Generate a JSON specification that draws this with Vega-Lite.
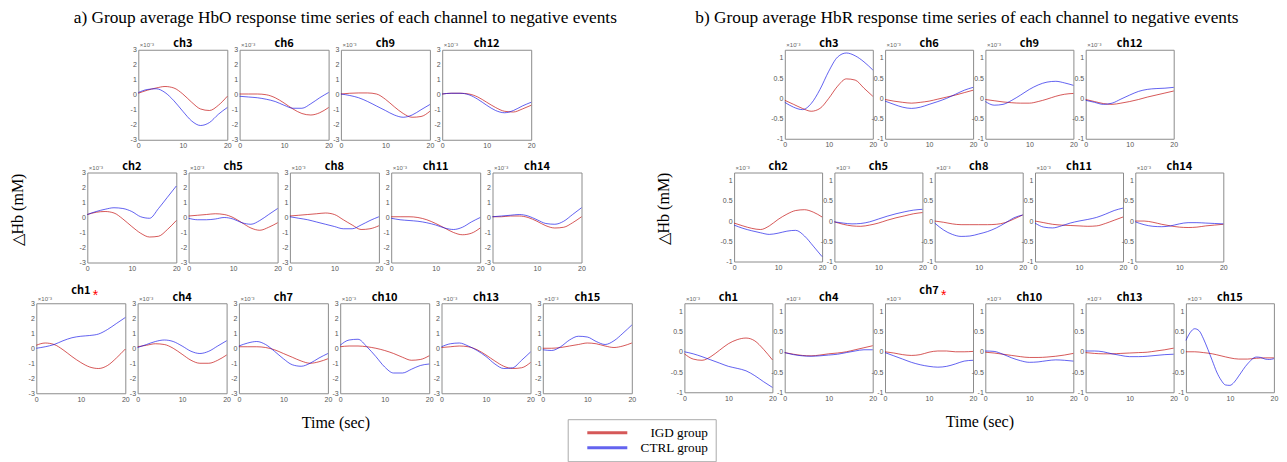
{
"$schema":"https://vega.github.io/schema/vega-lite/v6.json",
"padding":{"left":0,"top":9,"right":0,"bottom":0},
"autosize":{"type":"pad"},
"background":"white",
"spacing":10.75,
"datasets":{"d":[
{"k":"a3","g":"IGD group","t":0,"v":0.1},{"k":"a3","g":"IGD group","t":2,"v":0.3},{"k":"a3","g":"IGD group","t":4,"v":0.45},{"k":"a3","g":"IGD group","t":6,"v":0.55},{"k":"a3","g":"IGD group","t":8,"v":0.45},{"k":"a3","g":"IGD group","t":10,"v":0.05},{"k":"a3","g":"IGD group","t":12,"v":-0.5},{"k":"a3","g":"IGD group","t":14,"v":-0.95},{"k":"a3","g":"IGD group","t":16,"v":-1.05},{"k":"a3","g":"IGD group","t":18,"v":-0.7},{"k":"a3","g":"IGD group","t":20,"v":-0.1},
{"k":"a3","g":"CTRL group","t":0,"v":0.15},{"k":"a3","g":"CTRL group","t":2,"v":0.35},{"k":"a3","g":"CTRL group","t":4,"v":0.4},{"k":"a3","g":"CTRL group","t":6,"v":0.15},{"k":"a3","g":"CTRL group","t":8,"v":-0.4},{"k":"a3","g":"CTRL group","t":10,"v":-1.1},{"k":"a3","g":"CTRL group","t":12,"v":-1.75},{"k":"a3","g":"CTRL group","t":14,"v":-2.05},{"k":"a3","g":"CTRL group","t":16,"v":-1.85},{"k":"a3","g":"CTRL group","t":18,"v":-1.3},{"k":"a3","g":"CTRL group","t":20,"v":-0.85},
{"k":"a6","g":"IGD group","t":0,"v":0.05},{"k":"a6","g":"IGD group","t":2,"v":0.05},{"k":"a6","g":"IGD group","t":4,"v":0.05},{"k":"a6","g":"IGD group","t":6,"v":0},{"k":"a6","g":"IGD group","t":8,"v":-0.2},{"k":"a6","g":"IGD group","t":10,"v":-0.55},{"k":"a6","g":"IGD group","t":12,"v":-0.95},{"k":"a6","g":"IGD group","t":14,"v":-1.25},{"k":"a6","g":"IGD group","t":16,"v":-1.35},{"k":"a6","g":"IGD group","t":18,"v":-1.2},{"k":"a6","g":"IGD group","t":20,"v":-0.85},
{"k":"a6","g":"CTRL group","t":0,"v":-0.1},{"k":"a6","g":"CTRL group","t":2,"v":-0.15},{"k":"a6","g":"CTRL group","t":4,"v":-0.2},{"k":"a6","g":"CTRL group","t":6,"v":-0.3},{"k":"a6","g":"CTRL group","t":8,"v":-0.45},{"k":"a6","g":"CTRL group","t":10,"v":-0.7},{"k":"a6","g":"CTRL group","t":12,"v":-0.9},{"k":"a6","g":"CTRL group","t":14,"v":-0.9},{"k":"a6","g":"CTRL group","t":16,"v":-0.6},{"k":"a6","g":"CTRL group","t":18,"v":-0.2},{"k":"a6","g":"CTRL group","t":20,"v":0.15},
{"k":"a9","g":"IGD group","t":0,"v":0.05},{"k":"a9","g":"IGD group","t":2,"v":0.1},{"k":"a9","g":"IGD group","t":4,"v":0.12},{"k":"a9","g":"IGD group","t":6,"v":0.12},{"k":"a9","g":"IGD group","t":8,"v":0.05},{"k":"a9","g":"IGD group","t":10,"v":-0.3},{"k":"a9","g":"IGD group","t":12,"v":-0.8},{"k":"a9","g":"IGD group","t":14,"v":-1.25},{"k":"a9","g":"IGD group","t":16,"v":-1.5},{"k":"a9","g":"IGD group","t":18,"v":-1.45},{"k":"a9","g":"IGD group","t":20,"v":-1.1},
{"k":"a9","g":"CTRL group","t":0,"v":0.05},{"k":"a9","g":"CTRL group","t":2,"v":-0.05},{"k":"a9","g":"CTRL group","t":4,"v":-0.2},{"k":"a9","g":"CTRL group","t":6,"v":-0.45},{"k":"a9","g":"CTRL group","t":8,"v":-0.75},{"k":"a9","g":"CTRL group","t":10,"v":-1.05},{"k":"a9","g":"CTRL group","t":12,"v":-1.35},{"k":"a9","g":"CTRL group","t":14,"v":-1.5},{"k":"a9","g":"CTRL group","t":16,"v":-1.35},{"k":"a9","g":"CTRL group","t":18,"v":-1},{"k":"a9","g":"CTRL group","t":20,"v":-0.65},
{"k":"a12","g":"IGD group","t":0,"v":0.05},{"k":"a12","g":"IGD group","t":2,"v":0.1},{"k":"a12","g":"IGD group","t":4,"v":0.1},{"k":"a12","g":"IGD group","t":6,"v":0.05},{"k":"a12","g":"IGD group","t":8,"v":-0.15},{"k":"a12","g":"IGD group","t":10,"v":-0.5},{"k":"a12","g":"IGD group","t":12,"v":-0.85},{"k":"a12","g":"IGD group","t":14,"v":-1.1},{"k":"a12","g":"IGD group","t":16,"v":-1.15},{"k":"a12","g":"IGD group","t":18,"v":-0.95},{"k":"a12","g":"IGD group","t":20,"v":-0.7},
{"k":"a12","g":"CTRL group","t":0,"v":0.05},{"k":"a12","g":"CTRL group","t":2,"v":0.1},{"k":"a12","g":"CTRL group","t":4,"v":0.1},{"k":"a12","g":"CTRL group","t":6,"v":0},{"k":"a12","g":"CTRL group","t":8,"v":-0.3},{"k":"a12","g":"CTRL group","t":10,"v":-0.7},{"k":"a12","g":"CTRL group","t":12,"v":-1.05},{"k":"a12","g":"CTRL group","t":14,"v":-1.2},{"k":"a12","g":"CTRL group","t":16,"v":-1.05},{"k":"a12","g":"CTRL group","t":18,"v":-0.75},{"k":"a12","g":"CTRL group","t":20,"v":-0.5},
{"k":"a2","g":"IGD group","t":0,"v":0.2},{"k":"a2","g":"IGD group","t":2,"v":0.35},{"k":"a2","g":"IGD group","t":4,"v":0.4},{"k":"a2","g":"IGD group","t":6,"v":0.3},{"k":"a2","g":"IGD group","t":8,"v":-0.1},{"k":"a2","g":"IGD group","t":10,"v":-0.6},{"k":"a2","g":"IGD group","t":12,"v":-1.05},{"k":"a2","g":"IGD group","t":14,"v":-1.3},{"k":"a2","g":"IGD group","t":16,"v":-1.25},{"k":"a2","g":"IGD group","t":18,"v":-0.8},{"k":"a2","g":"IGD group","t":20,"v":-0.2},
{"k":"a2","g":"CTRL group","t":0,"v":0.2},{"k":"a2","g":"CTRL group","t":2,"v":0.4},{"k":"a2","g":"CTRL group","t":4,"v":0.55},{"k":"a2","g":"CTRL group","t":6,"v":0.65},{"k":"a2","g":"CTRL group","t":8,"v":0.6},{"k":"a2","g":"CTRL group","t":10,"v":0.4},{"k":"a2","g":"CTRL group","t":12,"v":0.05},{"k":"a2","g":"CTRL group","t":14,"v":-0.05},{"k":"a2","g":"CTRL group","t":16,"v":0.6},{"k":"a2","g":"CTRL group","t":18,"v":1.35},{"k":"a2","g":"CTRL group","t":20,"v":2.1},
{"k":"a5","g":"IGD group","t":0,"v":0.1},{"k":"a5","g":"IGD group","t":2,"v":0.15},{"k":"a5","g":"IGD group","t":4,"v":0.2},{"k":"a5","g":"IGD group","t":6,"v":0.25},{"k":"a5","g":"IGD group","t":8,"v":0.2},{"k":"a5","g":"IGD group","t":10,"v":0},{"k":"a5","g":"IGD group","t":12,"v":-0.35},{"k":"a5","g":"IGD group","t":14,"v":-0.7},{"k":"a5","g":"IGD group","t":16,"v":-0.85},{"k":"a5","g":"IGD group","t":18,"v":-0.65},{"k":"a5","g":"IGD group","t":20,"v":-0.35},
{"k":"a5","g":"CTRL group","t":0,"v":-0.05},{"k":"a5","g":"CTRL group","t":2,"v":-0.15},{"k":"a5","g":"CTRL group","t":4,"v":-0.15},{"k":"a5","g":"CTRL group","t":6,"v":-0.1},{"k":"a5","g":"CTRL group","t":8,"v":0},{"k":"a5","g":"CTRL group","t":10,"v":-0.1},{"k":"a5","g":"CTRL group","t":12,"v":-0.35},{"k":"a5","g":"CTRL group","t":14,"v":-0.45},{"k":"a5","g":"CTRL group","t":16,"v":-0.2},{"k":"a5","g":"CTRL group","t":18,"v":0.2},{"k":"a5","g":"CTRL group","t":20,"v":0.6},
{"k":"a8","g":"IGD group","t":0,"v":0.1},{"k":"a8","g":"IGD group","t":2,"v":0.15},{"k":"a8","g":"IGD group","t":4,"v":0.2},{"k":"a8","g":"IGD group","t":6,"v":0.25},{"k":"a8","g":"IGD group","t":8,"v":0.3},{"k":"a8","g":"IGD group","t":10,"v":0.2},{"k":"a8","g":"IGD group","t":12,"v":-0.15},{"k":"a8","g":"IGD group","t":14,"v":-0.5},{"k":"a8","g":"IGD group","t":16,"v":-0.8},{"k":"a8","g":"IGD group","t":18,"v":-0.75},{"k":"a8","g":"IGD group","t":20,"v":-0.55},
{"k":"a8","g":"CTRL group","t":0,"v":0.05},{"k":"a8","g":"CTRL group","t":2,"v":-0.05},{"k":"a8","g":"CTRL group","t":4,"v":-0.15},{"k":"a8","g":"CTRL group","t":6,"v":-0.3},{"k":"a8","g":"CTRL group","t":8,"v":-0.45},{"k":"a8","g":"CTRL group","t":10,"v":-0.6},{"k":"a8","g":"CTRL group","t":12,"v":-0.75},{"k":"a8","g":"CTRL group","t":14,"v":-0.75},{"k":"a8","g":"CTRL group","t":16,"v":-0.5},{"k":"a8","g":"CTRL group","t":18,"v":-0.2},{"k":"a8","g":"CTRL group","t":20,"v":0.05},
{"k":"a11","g":"IGD group","t":0,"v":0.05},{"k":"a11","g":"IGD group","t":2,"v":0.05},{"k":"a11","g":"IGD group","t":4,"v":0.05},{"k":"a11","g":"IGD group","t":6,"v":0},{"k":"a11","g":"IGD group","t":8,"v":-0.15},{"k":"a11","g":"IGD group","t":10,"v":-0.4},{"k":"a11","g":"IGD group","t":12,"v":-0.7},{"k":"a11","g":"IGD group","t":14,"v":-1},{"k":"a11","g":"IGD group","t":16,"v":-1.15},{"k":"a11","g":"IGD group","t":18,"v":-1.05},{"k":"a11","g":"IGD group","t":20,"v":-0.7},
{"k":"a11","g":"CTRL group","t":0,"v":-0.05},{"k":"a11","g":"CTRL group","t":2,"v":-0.15},{"k":"a11","g":"CTRL group","t":4,"v":-0.2},{"k":"a11","g":"CTRL group","t":6,"v":-0.25},{"k":"a11","g":"CTRL group","t":8,"v":-0.35},{"k":"a11","g":"CTRL group","t":10,"v":-0.5},{"k":"a11","g":"CTRL group","t":12,"v":-0.7},{"k":"a11","g":"CTRL group","t":14,"v":-0.8},{"k":"a11","g":"CTRL group","t":16,"v":-0.65},{"k":"a11","g":"CTRL group","t":18,"v":-0.3},{"k":"a11","g":"CTRL group","t":20,"v":0},
{"k":"a14","g":"IGD group","t":0,"v":0.05},{"k":"a14","g":"IGD group","t":2,"v":0.05},{"k":"a14","g":"IGD group","t":4,"v":0.1},{"k":"a14","g":"IGD group","t":6,"v":0.1},{"k":"a14","g":"IGD group","t":8,"v":0},{"k":"a14","g":"IGD group","t":10,"v":-0.25},{"k":"a14","g":"IGD group","t":12,"v":-0.55},{"k":"a14","g":"IGD group","t":14,"v":-0.7},{"k":"a14","g":"IGD group","t":16,"v":-0.65},{"k":"a14","g":"IGD group","t":18,"v":-0.35},{"k":"a14","g":"IGD group","t":20,"v":0.05},
{"k":"a14","g":"CTRL group","t":0,"v":0.05},{"k":"a14","g":"CTRL group","t":2,"v":0.1},{"k":"a14","g":"CTRL group","t":4,"v":0.15},{"k":"a14","g":"CTRL group","t":6,"v":0.2},{"k":"a14","g":"CTRL group","t":8,"v":0.1},{"k":"a14","g":"CTRL group","t":10,"v":-0.15},{"k":"a14","g":"CTRL group","t":12,"v":-0.4},{"k":"a14","g":"CTRL group","t":14,"v":-0.45},{"k":"a14","g":"CTRL group","t":16,"v":-0.25},{"k":"a14","g":"CTRL group","t":18,"v":0.2},{"k":"a14","g":"CTRL group","t":20,"v":0.65},
{"k":"a1","g":"IGD group","t":0,"v":0.2},{"k":"a1","g":"IGD group","t":2,"v":0.35},{"k":"a1","g":"IGD group","t":4,"v":0.25},{"k":"a1","g":"IGD group","t":6,"v":-0.1},{"k":"a1","g":"IGD group","t":8,"v":-0.55},{"k":"a1","g":"IGD group","t":10,"v":-0.95},{"k":"a1","g":"IGD group","t":12,"v":-1.25},{"k":"a1","g":"IGD group","t":14,"v":-1.35},{"k":"a1","g":"IGD group","t":16,"v":-1.15},{"k":"a1","g":"IGD group","t":18,"v":-0.65},{"k":"a1","g":"IGD group","t":20,"v":-0.05},
{"k":"a1","g":"CTRL group","t":0,"v":0},{"k":"a1","g":"CTRL group","t":2,"v":0.1},{"k":"a1","g":"CTRL group","t":4,"v":0.25},{"k":"a1","g":"CTRL group","t":6,"v":0.5},{"k":"a1","g":"CTRL group","t":8,"v":0.7},{"k":"a1","g":"CTRL group","t":10,"v":0.8},{"k":"a1","g":"CTRL group","t":12,"v":0.85},{"k":"a1","g":"CTRL group","t":14,"v":0.95},{"k":"a1","g":"CTRL group","t":16,"v":1.25},{"k":"a1","g":"CTRL group","t":18,"v":1.65},{"k":"a1","g":"CTRL group","t":20,"v":2.05},
{"k":"a4","g":"IGD group","t":0,"v":0.1},{"k":"a4","g":"IGD group","t":2,"v":0.2},{"k":"a4","g":"IGD group","t":4,"v":0.3},{"k":"a4","g":"IGD group","t":6,"v":0.25},{"k":"a4","g":"IGD group","t":8,"v":0},{"k":"a4","g":"IGD group","t":10,"v":-0.4},{"k":"a4","g":"IGD group","t":12,"v":-0.8},{"k":"a4","g":"IGD group","t":14,"v":-1},{"k":"a4","g":"IGD group","t":16,"v":-1},{"k":"a4","g":"IGD group","t":18,"v":-0.8},{"k":"a4","g":"IGD group","t":20,"v":-0.45},
{"k":"a4","g":"CTRL group","t":0,"v":0.05},{"k":"a4","g":"CTRL group","t":2,"v":0.25},{"k":"a4","g":"CTRL group","t":4,"v":0.45},{"k":"a4","g":"CTRL group","t":6,"v":0.55},{"k":"a4","g":"CTRL group","t":8,"v":0.45},{"k":"a4","g":"CTRL group","t":10,"v":0.15},{"k":"a4","g":"CTRL group","t":12,"v":-0.2},{"k":"a4","g":"CTRL group","t":14,"v":-0.35},{"k":"a4","g":"CTRL group","t":16,"v":-0.2},{"k":"a4","g":"CTRL group","t":18,"v":0.15},{"k":"a4","g":"CTRL group","t":20,"v":0.5},
{"k":"a7","g":"IGD group","t":0,"v":0.1},{"k":"a7","g":"IGD group","t":2,"v":0.1},{"k":"a7","g":"IGD group","t":4,"v":0.1},{"k":"a7","g":"IGD group","t":6,"v":0.05},{"k":"a7","g":"IGD group","t":8,"v":-0.1},{"k":"a7","g":"IGD group","t":10,"v":-0.35},{"k":"a7","g":"IGD group","t":12,"v":-0.6},{"k":"a7","g":"IGD group","t":14,"v":-0.85},{"k":"a7","g":"IGD group","t":16,"v":-1},{"k":"a7","g":"IGD group","t":18,"v":-0.9},{"k":"a7","g":"IGD group","t":20,"v":-0.7},
{"k":"a7","g":"CTRL group","t":0,"v":0.15},{"k":"a7","g":"CTRL group","t":2,"v":0.35},{"k":"a7","g":"CTRL group","t":4,"v":0.45},{"k":"a7","g":"CTRL group","t":6,"v":0.25},{"k":"a7","g":"CTRL group","t":8,"v":-0.2},{"k":"a7","g":"CTRL group","t":10,"v":-0.7},{"k":"a7","g":"CTRL group","t":12,"v":-1.1},{"k":"a7","g":"CTRL group","t":14,"v":-1.2},{"k":"a7","g":"CTRL group","t":16,"v":-1},{"k":"a7","g":"CTRL group","t":18,"v":-0.65},{"k":"a7","g":"CTRL group","t":20,"v":-0.35},
{"k":"a10","g":"IGD group","t":0,"v":0.1},{"k":"a10","g":"IGD group","t":2,"v":0.15},{"k":"a10","g":"IGD group","t":4,"v":0.15},{"k":"a10","g":"IGD group","t":6,"v":0.1},{"k":"a10","g":"IGD group","t":8,"v":0},{"k":"a10","g":"IGD group","t":10,"v":-0.15},{"k":"a10","g":"IGD group","t":12,"v":-0.35},{"k":"a10","g":"IGD group","t":14,"v":-0.6},{"k":"a10","g":"IGD group","t":16,"v":-0.8},{"k":"a10","g":"IGD group","t":18,"v":-0.75},{"k":"a10","g":"IGD group","t":20,"v":-0.5},
{"k":"a10","g":"CTRL group","t":0,"v":0.2},{"k":"a10","g":"CTRL group","t":2,"v":0.55},{"k":"a10","g":"CTRL group","t":4,"v":0.6},{"k":"a10","g":"CTRL group","t":6,"v":0.1},{"k":"a10","g":"CTRL group","t":8,"v":-0.55},{"k":"a10","g":"CTRL group","t":10,"v":-1.25},{"k":"a10","g":"CTRL group","t":12,"v":-1.65},{"k":"a10","g":"CTRL group","t":14,"v":-1.65},{"k":"a10","g":"CTRL group","t":16,"v":-1.4},{"k":"a10","g":"CTRL group","t":18,"v":-1.15},{"k":"a10","g":"CTRL group","t":20,"v":-1.05},
{"k":"a13","g":"IGD group","t":0,"v":0.05},{"k":"a13","g":"IGD group","t":2,"v":0.1},{"k":"a13","g":"IGD group","t":4,"v":0.15},{"k":"a13","g":"IGD group","t":6,"v":0.1},{"k":"a13","g":"IGD group","t":8,"v":-0.1},{"k":"a13","g":"IGD group","t":10,"v":-0.45},{"k":"a13","g":"IGD group","t":12,"v":-0.85},{"k":"a13","g":"IGD group","t":14,"v":-1.2},{"k":"a13","g":"IGD group","t":16,"v":-1.35},{"k":"a13","g":"IGD group","t":18,"v":-1.3},{"k":"a13","g":"IGD group","t":20,"v":-0.95},
{"k":"a13","g":"CTRL group","t":0,"v":0.1},{"k":"a13","g":"CTRL group","t":2,"v":0.3},{"k":"a13","g":"CTRL group","t":4,"v":0.35},{"k":"a13","g":"CTRL group","t":6,"v":0.15},{"k":"a13","g":"CTRL group","t":8,"v":-0.15},{"k":"a13","g":"CTRL group","t":10,"v":-0.55},{"k":"a13","g":"CTRL group","t":12,"v":-1.05},{"k":"a13","g":"CTRL group","t":14,"v":-1.35},{"k":"a13","g":"CTRL group","t":16,"v":-1.3},{"k":"a13","g":"CTRL group","t":18,"v":-0.8},{"k":"a13","g":"CTRL group","t":20,"v":-0.25},
{"k":"a15","g":"IGD group","t":0,"v":0},{"k":"a15","g":"IGD group","t":2,"v":0},{"k":"a15","g":"IGD group","t":4,"v":0.05},{"k":"a15","g":"IGD group","t":6,"v":0.15},{"k":"a15","g":"IGD group","t":8,"v":0.25},{"k":"a15","g":"IGD group","t":10,"v":0.35},{"k":"a15","g":"IGD group","t":12,"v":0.3},{"k":"a15","g":"IGD group","t":14,"v":0.15},{"k":"a15","g":"IGD group","t":16,"v":0.05},{"k":"a15","g":"IGD group","t":18,"v":0.15},{"k":"a15","g":"IGD group","t":20,"v":0.35},
{"k":"a15","g":"CTRL group","t":0,"v":-0.1},{"k":"a15","g":"CTRL group","t":2,"v":-0.15},{"k":"a15","g":"CTRL group","t":4,"v":0.1},{"k":"a15","g":"CTRL group","t":6,"v":0.55},{"k":"a15","g":"CTRL group","t":8,"v":0.8},{"k":"a15","g":"CTRL group","t":10,"v":0.75},{"k":"a15","g":"CTRL group","t":12,"v":0.45},{"k":"a15","g":"CTRL group","t":14,"v":0.25},{"k":"a15","g":"CTRL group","t":16,"v":0.5},{"k":"a15","g":"CTRL group","t":18,"v":1},{"k":"a15","g":"CTRL group","t":20,"v":1.55},
{"k":"b3","g":"IGD group","t":0,"v":-0.05},{"k":"b3","g":"IGD group","t":2,"v":-0.15},{"k":"b3","g":"IGD group","t":4,"v":-0.25},{"k":"b3","g":"IGD group","t":6,"v":-0.32},{"k":"b3","g":"IGD group","t":8,"v":-0.25},{"k":"b3","g":"IGD group","t":10,"v":0},{"k":"b3","g":"IGD group","t":12,"v":0.3},{"k":"b3","g":"IGD group","t":14,"v":0.48},{"k":"b3","g":"IGD group","t":16,"v":0.45},{"k":"b3","g":"IGD group","t":18,"v":0.25},{"k":"b3","g":"IGD group","t":20,"v":0.05},
{"k":"b3","g":"CTRL group","t":0,"v":-0.1},{"k":"b3","g":"CTRL group","t":2,"v":-0.22},{"k":"b3","g":"CTRL group","t":4,"v":-0.28},{"k":"b3","g":"CTRL group","t":6,"v":-0.13},{"k":"b3","g":"CTRL group","t":8,"v":0.22},{"k":"b3","g":"CTRL group","t":10,"v":0.67},{"k":"b3","g":"CTRL group","t":12,"v":1.02},{"k":"b3","g":"CTRL group","t":14,"v":1.12},{"k":"b3","g":"CTRL group","t":16,"v":1.05},{"k":"b3","g":"CTRL group","t":18,"v":0.9},{"k":"b3","g":"CTRL group","t":20,"v":0.7},
{"k":"b6","g":"IGD group","t":0,"v":-0.03},{"k":"b6","g":"IGD group","t":2,"v":-0.07},{"k":"b6","g":"IGD group","t":4,"v":-0.1},{"k":"b6","g":"IGD group","t":6,"v":-0.12},{"k":"b6","g":"IGD group","t":8,"v":-0.1},{"k":"b6","g":"IGD group","t":10,"v":-0.07},{"k":"b6","g":"IGD group","t":12,"v":-0.02},{"k":"b6","g":"IGD group","t":14,"v":0.03},{"k":"b6","g":"IGD group","t":16,"v":0.08},{"k":"b6","g":"IGD group","t":18,"v":0.14},{"k":"b6","g":"IGD group","t":20,"v":0.2},
{"k":"b6","g":"CTRL group","t":0,"v":-0.07},{"k":"b6","g":"CTRL group","t":2,"v":-0.15},{"k":"b6","g":"CTRL group","t":4,"v":-0.22},{"k":"b6","g":"CTRL group","t":6,"v":-0.25},{"k":"b6","g":"CTRL group","t":8,"v":-0.22},{"k":"b6","g":"CTRL group","t":10,"v":-0.15},{"k":"b6","g":"CTRL group","t":12,"v":-0.08},{"k":"b6","g":"CTRL group","t":14,"v":0},{"k":"b6","g":"CTRL group","t":16,"v":0.1},{"k":"b6","g":"CTRL group","t":18,"v":0.2},{"k":"b6","g":"CTRL group","t":20,"v":0.27},
{"k":"b9","g":"IGD group","t":0,"v":-0.03},{"k":"b9","g":"IGD group","t":2,"v":-0.06},{"k":"b9","g":"IGD group","t":4,"v":-0.09},{"k":"b9","g":"IGD group","t":6,"v":-0.11},{"k":"b9","g":"IGD group","t":8,"v":-0.12},{"k":"b9","g":"IGD group","t":10,"v":-0.12},{"k":"b9","g":"IGD group","t":12,"v":-0.08},{"k":"b9","g":"IGD group","t":14,"v":-0.02},{"k":"b9","g":"IGD group","t":16,"v":0.05},{"k":"b9","g":"IGD group","t":18,"v":0.1},{"k":"b9","g":"IGD group","t":20,"v":0.12},
{"k":"b9","g":"CTRL group","t":0,"v":-0.08},{"k":"b9","g":"CTRL group","t":2,"v":-0.17},{"k":"b9","g":"CTRL group","t":4,"v":-0.15},{"k":"b9","g":"CTRL group","t":6,"v":-0.05},{"k":"b9","g":"CTRL group","t":8,"v":0.08},{"k":"b9","g":"CTRL group","t":10,"v":0.22},{"k":"b9","g":"CTRL group","t":12,"v":0.33},{"k":"b9","g":"CTRL group","t":14,"v":0.4},{"k":"b9","g":"CTRL group","t":16,"v":0.42},{"k":"b9","g":"CTRL group","t":18,"v":0.38},{"k":"b9","g":"CTRL group","t":20,"v":0.32},
{"k":"b12","g":"IGD group","t":0,"v":-0.03},{"k":"b12","g":"IGD group","t":2,"v":-0.08},{"k":"b12","g":"IGD group","t":4,"v":-0.13},{"k":"b12","g":"IGD group","t":6,"v":-0.15},{"k":"b12","g":"IGD group","t":8,"v":-0.12},{"k":"b12","g":"IGD group","t":10,"v":-0.08},{"k":"b12","g":"IGD group","t":12,"v":-0.03},{"k":"b12","g":"IGD group","t":14,"v":0.03},{"k":"b12","g":"IGD group","t":16,"v":0.08},{"k":"b12","g":"IGD group","t":18,"v":0.13},{"k":"b12","g":"IGD group","t":20,"v":0.18},
{"k":"b12","g":"CTRL group","t":0,"v":-0.05},{"k":"b12","g":"CTRL group","t":2,"v":-0.1},{"k":"b12","g":"CTRL group","t":4,"v":-0.15},{"k":"b12","g":"CTRL group","t":6,"v":-0.12},{"k":"b12","g":"CTRL group","t":8,"v":-0.02},{"k":"b12","g":"CTRL group","t":10,"v":0.08},{"k":"b12","g":"CTRL group","t":12,"v":0.17},{"k":"b12","g":"CTRL group","t":14,"v":0.22},{"k":"b12","g":"CTRL group","t":16,"v":0.24},{"k":"b12","g":"CTRL group","t":18,"v":0.25},{"k":"b12","g":"CTRL group","t":20,"v":0.27},
{"k":"b2","g":"IGD group","t":0,"v":-0.05},{"k":"b2","g":"IGD group","t":2,"v":-0.12},{"k":"b2","g":"IGD group","t":4,"v":-0.18},{"k":"b2","g":"IGD group","t":6,"v":-0.21},{"k":"b2","g":"IGD group","t":8,"v":-0.12},{"k":"b2","g":"IGD group","t":10,"v":0.04},{"k":"b2","g":"IGD group","t":12,"v":0.17},{"k":"b2","g":"IGD group","t":14,"v":0.26},{"k":"b2","g":"IGD group","t":16,"v":0.28},{"k":"b2","g":"IGD group","t":18,"v":0.22},{"k":"b2","g":"IGD group","t":20,"v":0.1},
{"k":"b2","g":"CTRL group","t":0,"v":-0.1},{"k":"b2","g":"CTRL group","t":2,"v":-0.18},{"k":"b2","g":"CTRL group","t":4,"v":-0.24},{"k":"b2","g":"CTRL group","t":6,"v":-0.29},{"k":"b2","g":"CTRL group","t":8,"v":-0.33},{"k":"b2","g":"CTRL group","t":10,"v":-0.3},{"k":"b2","g":"CTRL group","t":12,"v":-0.25},{"k":"b2","g":"CTRL group","t":14,"v":-0.23},{"k":"b2","g":"CTRL group","t":16,"v":-0.37},{"k":"b2","g":"CTRL group","t":18,"v":-0.62},{"k":"b2","g":"CTRL group","t":20,"v":-0.88},
{"k":"b5","g":"IGD group","t":0,"v":-0.02},{"k":"b5","g":"IGD group","t":2,"v":-0.08},{"k":"b5","g":"IGD group","t":4,"v":-0.12},{"k":"b5","g":"IGD group","t":6,"v":-0.13},{"k":"b5","g":"IGD group","t":8,"v":-0.1},{"k":"b5","g":"IGD group","t":10,"v":-0.05},{"k":"b5","g":"IGD group","t":12,"v":0.02},{"k":"b5","g":"IGD group","t":14,"v":0.08},{"k":"b5","g":"IGD group","t":16,"v":0.13},{"k":"b5","g":"IGD group","t":18,"v":0.18},{"k":"b5","g":"IGD group","t":20,"v":0.21},
{"k":"b5","g":"CTRL group","t":0,"v":-0.02},{"k":"b5","g":"CTRL group","t":2,"v":-0.05},{"k":"b5","g":"CTRL group","t":4,"v":-0.07},{"k":"b5","g":"CTRL group","t":6,"v":-0.06},{"k":"b5","g":"CTRL group","t":8,"v":-0.02},{"k":"b5","g":"CTRL group","t":10,"v":0.05},{"k":"b5","g":"CTRL group","t":12,"v":0.12},{"k":"b5","g":"CTRL group","t":14,"v":0.18},{"k":"b5","g":"CTRL group","t":16,"v":0.23},{"k":"b5","g":"CTRL group","t":18,"v":0.27},{"k":"b5","g":"CTRL group","t":20,"v":0.29},
{"k":"b8","g":"IGD group","t":0,"v":0},{"k":"b8","g":"IGD group","t":2,"v":-0.03},{"k":"b8","g":"IGD group","t":4,"v":-0.07},{"k":"b8","g":"IGD group","t":6,"v":-0.09},{"k":"b8","g":"IGD group","t":8,"v":-0.09},{"k":"b8","g":"IGD group","t":10,"v":-0.09},{"k":"b8","g":"IGD group","t":12,"v":-0.09},{"k":"b8","g":"IGD group","t":14,"v":-0.08},{"k":"b8","g":"IGD group","t":16,"v":-0.04},{"k":"b8","g":"IGD group","t":18,"v":0.05},{"k":"b8","g":"IGD group","t":20,"v":0.15},
{"k":"b8","g":"CTRL group","t":0,"v":-0.05},{"k":"b8","g":"CTRL group","t":2,"v":-0.22},{"k":"b8","g":"CTRL group","t":4,"v":-0.33},{"k":"b8","g":"CTRL group","t":6,"v":-0.38},{"k":"b8","g":"CTRL group","t":8,"v":-0.37},{"k":"b8","g":"CTRL group","t":10,"v":-0.32},{"k":"b8","g":"CTRL group","t":12,"v":-0.26},{"k":"b8","g":"CTRL group","t":14,"v":-0.17},{"k":"b8","g":"CTRL group","t":16,"v":-0.05},{"k":"b8","g":"CTRL group","t":18,"v":0.08},{"k":"b8","g":"CTRL group","t":20,"v":0.15},
{"k":"b11","g":"IGD group","t":0,"v":0},{"k":"b11","g":"IGD group","t":2,"v":-0.04},{"k":"b11","g":"IGD group","t":4,"v":-0.08},{"k":"b11","g":"IGD group","t":6,"v":-0.1},{"k":"b11","g":"IGD group","t":8,"v":-0.11},{"k":"b11","g":"IGD group","t":10,"v":-0.12},{"k":"b11","g":"IGD group","t":12,"v":-0.13},{"k":"b11","g":"IGD group","t":14,"v":-0.12},{"k":"b11","g":"IGD group","t":16,"v":-0.06},{"k":"b11","g":"IGD group","t":18,"v":0.02},{"k":"b11","g":"IGD group","t":20,"v":0.1},
{"k":"b11","g":"CTRL group","t":0,"v":-0.05},{"k":"b11","g":"CTRL group","t":2,"v":-0.15},{"k":"b11","g":"CTRL group","t":4,"v":-0.17},{"k":"b11","g":"CTRL group","t":6,"v":-0.12},{"k":"b11","g":"CTRL group","t":8,"v":-0.05},{"k":"b11","g":"CTRL group","t":10,"v":0},{"k":"b11","g":"CTRL group","t":12,"v":0.04},{"k":"b11","g":"CTRL group","t":14,"v":0.09},{"k":"b11","g":"CTRL group","t":16,"v":0.17},{"k":"b11","g":"CTRL group","t":18,"v":0.26},{"k":"b11","g":"CTRL group","t":20,"v":0.32},
{"k":"b14","g":"IGD group","t":0,"v":0},{"k":"b14","g":"IGD group","t":2,"v":0},{"k":"b14","g":"IGD group","t":4,"v":-0.03},{"k":"b14","g":"IGD group","t":6,"v":-0.08},{"k":"b14","g":"IGD group","t":8,"v":-0.12},{"k":"b14","g":"IGD group","t":10,"v":-0.15},{"k":"b14","g":"IGD group","t":12,"v":-0.16},{"k":"b14","g":"IGD group","t":14,"v":-0.15},{"k":"b14","g":"IGD group","t":16,"v":-0.12},{"k":"b14","g":"IGD group","t":18,"v":-0.1},{"k":"b14","g":"IGD group","t":20,"v":-0.08},
{"k":"b14","g":"CTRL group","t":0,"v":-0.02},{"k":"b14","g":"CTRL group","t":2,"v":-0.09},{"k":"b14","g":"CTRL group","t":4,"v":-0.13},{"k":"b14","g":"CTRL group","t":6,"v":-0.14},{"k":"b14","g":"CTRL group","t":8,"v":-0.12},{"k":"b14","g":"CTRL group","t":10,"v":-0.07},{"k":"b14","g":"CTRL group","t":12,"v":-0.04},{"k":"b14","g":"CTRL group","t":14,"v":-0.04},{"k":"b14","g":"CTRL group","t":16,"v":-0.05},{"k":"b14","g":"CTRL group","t":18,"v":-0.06},{"k":"b14","g":"CTRL group","t":20,"v":-0.07},
{"k":"b1","g":"IGD group","t":0,"v":-0.05},{"k":"b1","g":"IGD group","t":2,"v":-0.18},{"k":"b1","g":"IGD group","t":4,"v":-0.21},{"k":"b1","g":"IGD group","t":6,"v":-0.12},{"k":"b1","g":"IGD group","t":8,"v":0.04},{"k":"b1","g":"IGD group","t":10,"v":0.2},{"k":"b1","g":"IGD group","t":12,"v":0.3},{"k":"b1","g":"IGD group","t":14,"v":0.34},{"k":"b1","g":"IGD group","t":16,"v":0.27},{"k":"b1","g":"IGD group","t":18,"v":0.06},{"k":"b1","g":"IGD group","t":20,"v":-0.2},
{"k":"b1","g":"CTRL group","t":0,"v":0},{"k":"b1","g":"CTRL group","t":2,"v":-0.05},{"k":"b1","g":"CTRL group","t":4,"v":-0.12},{"k":"b1","g":"CTRL group","t":6,"v":-0.2},{"k":"b1","g":"CTRL group","t":8,"v":-0.28},{"k":"b1","g":"CTRL group","t":10,"v":-0.36},{"k":"b1","g":"CTRL group","t":12,"v":-0.41},{"k":"b1","g":"CTRL group","t":14,"v":-0.47},{"k":"b1","g":"CTRL group","t":16,"v":-0.59},{"k":"b1","g":"CTRL group","t":18,"v":-0.74},{"k":"b1","g":"CTRL group","t":20,"v":-0.88},
{"k":"b4","g":"IGD group","t":0,"v":-0.02},{"k":"b4","g":"IGD group","t":2,"v":-0.06},{"k":"b4","g":"IGD group","t":4,"v":-0.09},{"k":"b4","g":"IGD group","t":6,"v":-0.1},{"k":"b4","g":"IGD group","t":8,"v":-0.08},{"k":"b4","g":"IGD group","t":10,"v":-0.05},{"k":"b4","g":"IGD group","t":12,"v":-0.03},{"k":"b4","g":"IGD group","t":14,"v":0},{"k":"b4","g":"IGD group","t":16,"v":0.05},{"k":"b4","g":"IGD group","t":18,"v":0.1},{"k":"b4","g":"IGD group","t":20,"v":0.15},
{"k":"b4","g":"CTRL group","t":0,"v":-0.02},{"k":"b4","g":"CTRL group","t":2,"v":-0.07},{"k":"b4","g":"CTRL group","t":4,"v":-0.1},{"k":"b4","g":"CTRL group","t":6,"v":-0.11},{"k":"b4","g":"CTRL group","t":8,"v":-0.1},{"k":"b4","g":"CTRL group","t":10,"v":-0.08},{"k":"b4","g":"CTRL group","t":12,"v":-0.06},{"k":"b4","g":"CTRL group","t":14,"v":-0.02},{"k":"b4","g":"CTRL group","t":16,"v":0.02},{"k":"b4","g":"CTRL group","t":18,"v":0.05},{"k":"b4","g":"CTRL group","t":20,"v":0.05},
{"k":"b7","g":"IGD group","t":0,"v":0},{"k":"b7","g":"IGD group","t":2,"v":-0.03},{"k":"b7","g":"IGD group","t":4,"v":-0.07},{"k":"b7","g":"IGD group","t":6,"v":-0.09},{"k":"b7","g":"IGD group","t":8,"v":-0.07},{"k":"b7","g":"IGD group","t":10,"v":-0.01},{"k":"b7","g":"IGD group","t":12,"v":0.02},{"k":"b7","g":"IGD group","t":14,"v":0.02},{"k":"b7","g":"IGD group","t":16,"v":0},{"k":"b7","g":"IGD group","t":18,"v":0},{"k":"b7","g":"IGD group","t":20,"v":0.01},
{"k":"b7","g":"CTRL group","t":0,"v":-0.02},{"k":"b7","g":"CTRL group","t":2,"v":-0.1},{"k":"b7","g":"CTRL group","t":4,"v":-0.18},{"k":"b7","g":"CTRL group","t":6,"v":-0.26},{"k":"b7","g":"CTRL group","t":8,"v":-0.32},{"k":"b7","g":"CTRL group","t":10,"v":-0.36},{"k":"b7","g":"CTRL group","t":12,"v":-0.38},{"k":"b7","g":"CTRL group","t":14,"v":-0.36},{"k":"b7","g":"CTRL group","t":16,"v":-0.3},{"k":"b7","g":"CTRL group","t":18,"v":-0.23},{"k":"b7","g":"CTRL group","t":20,"v":-0.21},
{"k":"b10","g":"IGD group","t":0,"v":-0.01},{"k":"b10","g":"IGD group","t":2,"v":-0.03},{"k":"b10","g":"IGD group","t":4,"v":-0.06},{"k":"b10","g":"IGD group","t":6,"v":-0.09},{"k":"b10","g":"IGD group","t":8,"v":-0.12},{"k":"b10","g":"IGD group","t":10,"v":-0.14},{"k":"b10","g":"IGD group","t":12,"v":-0.14},{"k":"b10","g":"IGD group","t":14,"v":-0.13},{"k":"b10","g":"IGD group","t":16,"v":-0.11},{"k":"b10","g":"IGD group","t":18,"v":-0.08},{"k":"b10","g":"IGD group","t":20,"v":-0.04},
{"k":"b10","g":"CTRL group","t":0,"v":0.02},{"k":"b10","g":"CTRL group","t":2,"v":0.01},{"k":"b10","g":"CTRL group","t":4,"v":-0.06},{"k":"b10","g":"CTRL group","t":6,"v":-0.15},{"k":"b10","g":"CTRL group","t":8,"v":-0.22},{"k":"b10","g":"CTRL group","t":10,"v":-0.26},{"k":"b10","g":"CTRL group","t":12,"v":-0.25},{"k":"b10","g":"CTRL group","t":14,"v":-0.22},{"k":"b10","g":"CTRL group","t":16,"v":-0.2},{"k":"b10","g":"CTRL group","t":18,"v":-0.21},{"k":"b10","g":"CTRL group","t":20,"v":-0.23},
{"k":"b13","g":"IGD group","t":0,"v":-0.02},{"k":"b13","g":"IGD group","t":2,"v":-0.04},{"k":"b13","g":"IGD group","t":4,"v":-0.05},{"k":"b13","g":"IGD group","t":6,"v":-0.05},{"k":"b13","g":"IGD group","t":8,"v":-0.04},{"k":"b13","g":"IGD group","t":10,"v":-0.03},{"k":"b13","g":"IGD group","t":12,"v":-0.02},{"k":"b13","g":"IGD group","t":14,"v":-0.01},{"k":"b13","g":"IGD group","t":16,"v":0.02},{"k":"b13","g":"IGD group","t":18,"v":0.05},{"k":"b13","g":"IGD group","t":20,"v":0.09},
{"k":"b13","g":"CTRL group","t":0,"v":0.02},{"k":"b13","g":"CTRL group","t":2,"v":0.02},{"k":"b13","g":"CTRL group","t":4,"v":0},{"k":"b13","g":"CTRL group","t":6,"v":-0.05},{"k":"b13","g":"CTRL group","t":8,"v":-0.09},{"k":"b13","g":"CTRL group","t":10,"v":-0.12},{"k":"b13","g":"CTRL group","t":12,"v":-0.12},{"k":"b13","g":"CTRL group","t":14,"v":-0.11},{"k":"b13","g":"CTRL group","t":16,"v":-0.09},{"k":"b13","g":"CTRL group","t":18,"v":-0.07},{"k":"b13","g":"CTRL group","t":20,"v":-0.06},
{"k":"b15","g":"IGD group","t":0,"v":0},{"k":"b15","g":"IGD group","t":2,"v":0},{"k":"b15","g":"IGD group","t":4,"v":-0.02},{"k":"b15","g":"IGD group","t":6,"v":-0.05},{"k":"b15","g":"IGD group","t":8,"v":-0.1},{"k":"b15","g":"IGD group","t":10,"v":-0.15},{"k":"b15","g":"IGD group","t":12,"v":-0.18},{"k":"b15","g":"IGD group","t":14,"v":-0.18},{"k":"b15","g":"IGD group","t":16,"v":-0.16},{"k":"b15","g":"IGD group","t":18,"v":-0.15},{"k":"b15","g":"IGD group","t":20,"v":-0.15},
{"k":"b15","g":"CTRL group","t":0,"v":0.28},{"k":"b15","g":"CTRL group","t":1,"v":0.48},{"k":"b15","g":"CTRL group","t":2,"v":0.57},{"k":"b15","g":"CTRL group","t":3,"v":0.52},{"k":"b15","g":"CTRL group","t":4,"v":0.32},{"k":"b15","g":"CTRL group","t":5,"v":0.06},{"k":"b15","g":"CTRL group","t":6,"v":-0.22},{"k":"b15","g":"CTRL group","t":7,"v":-0.5},{"k":"b15","g":"CTRL group","t":8,"v":-0.7},{"k":"b15","g":"CTRL group","t":9,"v":-0.82},{"k":"b15","g":"CTRL group","t":10,"v":-0.83},{"k":"b15","g":"CTRL group","t":11,"v":-0.75},{"k":"b15","g":"CTRL group","t":12,"v":-0.6},{"k":"b15","g":"CTRL group","t":14,"v":-0.3},{"k":"b15","g":"CTRL group","t":16,"v":-0.13},{"k":"b15","g":"CTRL group","t":17,"v":-0.14},{"k":"b15","g":"CTRL group","t":18,"v":-0.18},{"k":"b15","g":"CTRL group","t":19,"v":-0.19},{"k":"b15","g":"CTRL group","t":20,"v":-0.17}
]},
"vconcat":[
{"bounds":"flush","spacing":12.3,"hconcat":[
 {"width":82.2,"height":1,"data":{"values":[]},"mark":"point","view":{"stroke":null}},
 {"width":500,"height":1,"data":{"values":[]},"mark":"point","view":{"stroke":null},"title":{"text":"a) Group average HbO response time series of each channel to negative events","font":"Liberation Serif","fontSize":17.3,"fontWeight":"normal","offset":-7.5}},
 {"width":96.9,"height":1,"data":{"values":[]},"mark":"point","view":{"stroke":null}},
 {"width":500,"height":1,"data":{"values":[]},"mark":"point","view":{"stroke":null},"title":{"text":"b) Group average HbR response time series of each channel to negative events","font":"Liberation Serif","fontSize":17.3,"fontWeight":"normal","offset":-7.5}}
]},
{"bounds":"flush","spacing":12.3,"hconcat":[
 {"width":125.2,"height":1,"data":{"values":[]},"mark":"point","view":{"stroke":null}},
 {"width":89,"height":90,"title":"ch3","data":{"name":"d"},"transform":[{"filter":"datum.k=='a3'"}],"mark":{"type":"line","interpolate":"monotone","strokeWidth":1,"opacity":0.65},"encoding":{"x":{"field":"t","type":"quantitative","scale":{"domain":[0,20],"nice":false},"axis":{"values":[0,10,20],"title":null,"labelExpr":"''+datum.value"}},"y":{"field":"v","type":"quantitative","scale":{"domain":[-3,3],"nice":false},"axis":{"values":[-3,-2,-1,0,1,2,3],"labelExpr":"''+datum.value","title":"×10⁻³","titleAngle":0,"titleAlign":"left","titleBaseline":"bottom","titleX":1,"titleY":-2,"titleFontSize":6,"titleFontWeight":"normal","titleColor":"#666","titleFont":"Liberation Sans"}},"color":{"field":"g","type":"nominal","scale":{"domain":["IGD group","CTRL group"],"range":["#c00000","#1010e8"]},"legend":{"orient":"none","legendX":567.7,"legendY":400.2,"title":null,"direction":"vertical","symbolType":"M-4,0L4,0","symbolSize":100,"symbolStrokeWidth":3,"symbolOpacity":1,"symbolOffset":26,"labelFont":"Liberation Serif","labelFontSize":13.2,"labelColor":"#000","labelAlign":"right","labelOffset":94,"padding":7,"strokeColor":"#aaaaaa","fillColor":"white","rowPadding":1}}}},
 {"width":89,"height":90,"title":"ch6","data":{"name":"d"},"transform":[{"filter":"datum.k=='a6'"}],"mark":{"type":"line","interpolate":"monotone","strokeWidth":1,"opacity":0.65},"encoding":{"x":{"field":"t","type":"quantitative","scale":{"domain":[0,20],"nice":false},"axis":{"values":[0,10,20],"title":null,"labelExpr":"''+datum.value"}},"y":{"field":"v","type":"quantitative","scale":{"domain":[-3,3],"nice":false},"axis":{"values":[-3,-2,-1,0,1,2,3],"labelExpr":"''+datum.value","title":"×10⁻³","titleAngle":0,"titleAlign":"left","titleBaseline":"bottom","titleX":1,"titleY":-2,"titleFontSize":6,"titleFontWeight":"normal","titleColor":"#666","titleFont":"Liberation Sans"}},"color":{"field":"g","type":"nominal"}}},
 {"width":89,"height":90,"title":"ch9","data":{"name":"d"},"transform":[{"filter":"datum.k=='a9'"}],"mark":{"type":"line","interpolate":"monotone","strokeWidth":1,"opacity":0.65},"encoding":{"x":{"field":"t","type":"quantitative","scale":{"domain":[0,20],"nice":false},"axis":{"values":[0,10,20],"title":null,"labelExpr":"''+datum.value"}},"y":{"field":"v","type":"quantitative","scale":{"domain":[-3,3],"nice":false},"axis":{"values":[-3,-2,-1,0,1,2,3],"labelExpr":"''+datum.value","title":"×10⁻³","titleAngle":0,"titleAlign":"left","titleBaseline":"bottom","titleX":1,"titleY":-2,"titleFontSize":6,"titleFontWeight":"normal","titleColor":"#666","titleFont":"Liberation Sans"}},"color":{"field":"g","type":"nominal"}}},
 {"width":89,"height":90,"title":"ch12","data":{"name":"d"},"transform":[{"filter":"datum.k=='a12'"}],"mark":{"type":"line","interpolate":"monotone","strokeWidth":1,"opacity":0.65},"encoding":{"x":{"field":"t","type":"quantitative","scale":{"domain":[0,20],"nice":false},"axis":{"values":[0,10,20],"title":null,"labelExpr":"''+datum.value"}},"y":{"field":"v","type":"quantitative","scale":{"domain":[-3,3],"nice":false},"axis":{"values":[-3,-2,-1,0,1,2,3],"labelExpr":"''+datum.value","title":"×10⁻³","titleAngle":0,"titleAlign":"left","titleBaseline":"bottom","titleX":1,"titleY":-2,"titleFontSize":6,"titleFontWeight":"normal","titleColor":"#666","titleFont":"Liberation Sans"}},"color":{"field":"g","type":"nominal"}}},
 {"width":229,"height":1,"data":{"values":[]},"mark":"point","view":{"stroke":null}},
 {"width":88,"height":89,"title":"ch3","data":{"name":"d"},"transform":[{"filter":"datum.k=='b3'"}],"mark":{"type":"line","interpolate":"monotone","strokeWidth":1,"opacity":0.65},"encoding":{"x":{"field":"t","type":"quantitative","scale":{"domain":[0,20],"nice":false},"axis":{"values":[0,10,20],"title":null,"labelExpr":"''+datum.value"}},"y":{"field":"v","type":"quantitative","scale":{"domain":[-1,1.2],"nice":false},"axis":{"values":[-1,-0.5,0,0.5,1],"labelExpr":"''+datum.value","title":"×10⁻³","titleAngle":0,"titleAlign":"left","titleBaseline":"bottom","titleX":1,"titleY":-2,"titleFontSize":6,"titleFontWeight":"normal","titleColor":"#666","titleFont":"Liberation Sans"}},"color":{"field":"g","type":"nominal"}}},
 {"width":88,"height":89,"title":"ch6","data":{"name":"d"},"transform":[{"filter":"datum.k=='b6'"}],"mark":{"type":"line","interpolate":"monotone","strokeWidth":1,"opacity":0.65},"encoding":{"x":{"field":"t","type":"quantitative","scale":{"domain":[0,20],"nice":false},"axis":{"values":[0,10,20],"title":null,"labelExpr":"''+datum.value"}},"y":{"field":"v","type":"quantitative","scale":{"domain":[-1,1.2],"nice":false},"axis":{"values":[-1,-0.5,0,0.5,1],"labelExpr":"''+datum.value","title":"×10⁻³","titleAngle":0,"titleAlign":"left","titleBaseline":"bottom","titleX":1,"titleY":-2,"titleFontSize":6,"titleFontWeight":"normal","titleColor":"#666","titleFont":"Liberation Sans"}},"color":{"field":"g","type":"nominal"}}},
 {"width":88,"height":89,"title":"ch9","data":{"name":"d"},"transform":[{"filter":"datum.k=='b9'"}],"mark":{"type":"line","interpolate":"monotone","strokeWidth":1,"opacity":0.65},"encoding":{"x":{"field":"t","type":"quantitative","scale":{"domain":[0,20],"nice":false},"axis":{"values":[0,10,20],"title":null,"labelExpr":"''+datum.value"}},"y":{"field":"v","type":"quantitative","scale":{"domain":[-1,1.2],"nice":false},"axis":{"values":[-1,-0.5,0,0.5,1],"labelExpr":"''+datum.value","title":"×10⁻³","titleAngle":0,"titleAlign":"left","titleBaseline":"bottom","titleX":1,"titleY":-2,"titleFontSize":6,"titleFontWeight":"normal","titleColor":"#666","titleFont":"Liberation Sans"}},"color":{"field":"g","type":"nominal"}}},
 {"width":88,"height":89,"title":"ch12","data":{"name":"d"},"transform":[{"filter":"datum.k=='b12'"}],"mark":{"type":"line","interpolate":"monotone","strokeWidth":1,"opacity":0.65},"encoding":{"x":{"field":"t","type":"quantitative","scale":{"domain":[0,20],"nice":false},"axis":{"values":[0,10,20],"title":null,"labelExpr":"''+datum.value"}},"y":{"field":"v","type":"quantitative","scale":{"domain":[-1,1.2],"nice":false},"axis":{"values":[-1,-0.5,0,0.5,1],"labelExpr":"''+datum.value","title":"×10⁻³","titleAngle":0,"titleAlign":"left","titleBaseline":"bottom","titleX":1,"titleY":-2,"titleFontSize":6,"titleFontWeight":"normal","titleColor":"#666","titleFont":"Liberation Sans"}},"color":{"field":"g","type":"nominal"}}}
]},
{"bounds":"flush","spacing":12.3,"hconcat":[
 {"width":74.7,"height":1,"data":{"values":[]},"mark":"point","view":{"stroke":null}},
 {"width":89,"height":90,"title":"ch2","data":{"name":"d"},"transform":[{"filter":"datum.k=='a2'"}],"mark":{"type":"line","interpolate":"monotone","strokeWidth":1,"opacity":0.65},"encoding":{"x":{"field":"t","type":"quantitative","scale":{"domain":[0,20],"nice":false},"axis":{"values":[0,10,20],"labelExpr":"''+datum.value","title":"×10⁻³","titleX":1,"titleY":-92,"titleAlign":"left","titleBaseline":"bottom","titleAngle":0,"titleFontSize":6,"titleFontWeight":"normal","titleColor":"#666","titleFont":"Liberation Sans"}},"y":{"field":"v","type":"quantitative","scale":{"domain":[-3,3],"nice":false},"axis":{"values":[-3,-2,-1,0,1,2,3],"labelExpr":"''+datum.value","title":"△Hb (mM)","titleAngle":270,"titleAlign":"center","titleBaseline":"alphabetic","titleX":-65,"titleY":37,"titleFont":"Liberation Serif","titleFontSize":16,"titleColor":"#000","titleFontWeight":"normal"}},"color":{"field":"g","type":"nominal"}}},
 {"width":89,"height":90,"title":"ch5","data":{"name":"d"},"transform":[{"filter":"datum.k=='a5'"}],"mark":{"type":"line","interpolate":"monotone","strokeWidth":1,"opacity":0.65},"encoding":{"x":{"field":"t","type":"quantitative","scale":{"domain":[0,20],"nice":false},"axis":{"values":[0,10,20],"title":null,"labelExpr":"''+datum.value"}},"y":{"field":"v","type":"quantitative","scale":{"domain":[-3,3],"nice":false},"axis":{"values":[-3,-2,-1,0,1,2,3],"labelExpr":"''+datum.value","title":"×10⁻³","titleAngle":0,"titleAlign":"left","titleBaseline":"bottom","titleX":1,"titleY":-2,"titleFontSize":6,"titleFontWeight":"normal","titleColor":"#666","titleFont":"Liberation Sans"}},"color":{"field":"g","type":"nominal"}}},
 {"width":89,"height":90,"title":"ch8","data":{"name":"d"},"transform":[{"filter":"datum.k=='a8'"}],"mark":{"type":"line","interpolate":"monotone","strokeWidth":1,"opacity":0.65},"encoding":{"x":{"field":"t","type":"quantitative","scale":{"domain":[0,20],"nice":false},"axis":{"values":[0,10,20],"title":null,"labelExpr":"''+datum.value"}},"y":{"field":"v","type":"quantitative","scale":{"domain":[-3,3],"nice":false},"axis":{"values":[-3,-2,-1,0,1,2,3],"labelExpr":"''+datum.value","title":"×10⁻³","titleAngle":0,"titleAlign":"left","titleBaseline":"bottom","titleX":1,"titleY":-2,"titleFontSize":6,"titleFontWeight":"normal","titleColor":"#666","titleFont":"Liberation Sans"}},"color":{"field":"g","type":"nominal"}}},
 {"width":89,"height":90,"title":"ch11","data":{"name":"d"},"transform":[{"filter":"datum.k=='a11'"}],"mark":{"type":"line","interpolate":"monotone","strokeWidth":1,"opacity":0.65},"encoding":{"x":{"field":"t","type":"quantitative","scale":{"domain":[0,20],"nice":false},"axis":{"values":[0,10,20],"title":null,"labelExpr":"''+datum.value"}},"y":{"field":"v","type":"quantitative","scale":{"domain":[-3,3],"nice":false},"axis":{"values":[-3,-2,-1,0,1,2,3],"labelExpr":"''+datum.value","title":"×10⁻³","titleAngle":0,"titleAlign":"left","titleBaseline":"bottom","titleX":1,"titleY":-2,"titleFontSize":6,"titleFontWeight":"normal","titleColor":"#666","titleFont":"Liberation Sans"}},"color":{"field":"g","type":"nominal"}}},
 {"width":89,"height":90,"title":"ch14","data":{"name":"d"},"transform":[{"filter":"datum.k=='a14'"}],"mark":{"type":"line","interpolate":"monotone","strokeWidth":1,"opacity":0.65},"encoding":{"x":{"field":"t","type":"quantitative","scale":{"domain":[0,20],"nice":false},"axis":{"values":[0,10,20],"title":null,"labelExpr":"''+datum.value"}},"y":{"field":"v","type":"quantitative","scale":{"domain":[-3,3],"nice":false},"axis":{"values":[-3,-2,-1,0,1,2,3],"labelExpr":"''+datum.value","title":"×10⁻³","titleAngle":0,"titleAlign":"left","titleBaseline":"bottom","titleX":1,"titleY":-2,"titleFontSize":6,"titleFontWeight":"normal","titleColor":"#666","titleFont":"Liberation Sans"}},"color":{"field":"g","type":"nominal"}}},
 {"width":127.8,"height":1,"data":{"values":[]},"mark":"point","view":{"stroke":null}},
 {"width":88,"height":89,"title":"ch2","data":{"name":"d"},"transform":[{"filter":"datum.k=='b2'"}],"mark":{"type":"line","interpolate":"monotone","strokeWidth":1,"opacity":0.65},"encoding":{"x":{"field":"t","type":"quantitative","scale":{"domain":[0,20],"nice":false},"axis":{"values":[0,10,20],"labelExpr":"''+datum.value","title":"×10⁻³","titleX":1,"titleY":-91,"titleAlign":"left","titleBaseline":"bottom","titleAngle":0,"titleFontSize":6,"titleFontWeight":"normal","titleColor":"#666","titleFont":"Liberation Sans"}},"y":{"field":"v","type":"quantitative","scale":{"domain":[-1,1.2],"nice":false},"axis":{"values":[-1,-0.5,0,0.5,1],"labelExpr":"''+datum.value","title":"△Hb (mM)","titleAngle":270,"titleAlign":"center","titleBaseline":"alphabetic","titleX":-65.6,"titleY":36,"titleFont":"Liberation Serif","titleFontSize":16,"titleColor":"#000","titleFontWeight":"normal"}},"color":{"field":"g","type":"nominal"}}},
 {"width":88,"height":89,"title":"ch5","data":{"name":"d"},"transform":[{"filter":"datum.k=='b5'"}],"mark":{"type":"line","interpolate":"monotone","strokeWidth":1,"opacity":0.65},"encoding":{"x":{"field":"t","type":"quantitative","scale":{"domain":[0,20],"nice":false},"axis":{"values":[0,10,20],"title":null,"labelExpr":"''+datum.value"}},"y":{"field":"v","type":"quantitative","scale":{"domain":[-1,1.2],"nice":false},"axis":{"values":[-1,-0.5,0,0.5,1],"labelExpr":"''+datum.value","title":"×10⁻³","titleAngle":0,"titleAlign":"left","titleBaseline":"bottom","titleX":1,"titleY":-2,"titleFontSize":6,"titleFontWeight":"normal","titleColor":"#666","titleFont":"Liberation Sans"}},"color":{"field":"g","type":"nominal"}}},
 {"width":88,"height":89,"title":"ch8","data":{"name":"d"},"transform":[{"filter":"datum.k=='b8'"}],"mark":{"type":"line","interpolate":"monotone","strokeWidth":1,"opacity":0.65},"encoding":{"x":{"field":"t","type":"quantitative","scale":{"domain":[0,20],"nice":false},"axis":{"values":[0,10,20],"title":null,"labelExpr":"''+datum.value"}},"y":{"field":"v","type":"quantitative","scale":{"domain":[-1,1.2],"nice":false},"axis":{"values":[-1,-0.5,0,0.5,1],"labelExpr":"''+datum.value","title":"×10⁻³","titleAngle":0,"titleAlign":"left","titleBaseline":"bottom","titleX":1,"titleY":-2,"titleFontSize":6,"titleFontWeight":"normal","titleColor":"#666","titleFont":"Liberation Sans"}},"color":{"field":"g","type":"nominal"}}},
 {"width":88,"height":89,"title":"ch11","data":{"name":"d"},"transform":[{"filter":"datum.k=='b11'"}],"mark":{"type":"line","interpolate":"monotone","strokeWidth":1,"opacity":0.65},"encoding":{"x":{"field":"t","type":"quantitative","scale":{"domain":[0,20],"nice":false},"axis":{"values":[0,10,20],"title":null,"labelExpr":"''+datum.value"}},"y":{"field":"v","type":"quantitative","scale":{"domain":[-1,1.2],"nice":false},"axis":{"values":[-1,-0.5,0,0.5,1],"labelExpr":"''+datum.value","title":"×10⁻³","titleAngle":0,"titleAlign":"left","titleBaseline":"bottom","titleX":1,"titleY":-2,"titleFontSize":6,"titleFontWeight":"normal","titleColor":"#666","titleFont":"Liberation Sans"}},"color":{"field":"g","type":"nominal"}}},
 {"width":88,"height":89,"title":"ch14","data":{"name":"d"},"transform":[{"filter":"datum.k=='b14'"}],"mark":{"type":"line","interpolate":"monotone","strokeWidth":1,"opacity":0.65},"encoding":{"x":{"field":"t","type":"quantitative","scale":{"domain":[0,20],"nice":false},"axis":{"values":[0,10,20],"title":null,"labelExpr":"''+datum.value"}},"y":{"field":"v","type":"quantitative","scale":{"domain":[-1,1.2],"nice":false},"axis":{"values":[-1,-0.5,0,0.5,1],"labelExpr":"''+datum.value","title":"×10⁻³","titleAngle":0,"titleAlign":"left","titleBaseline":"bottom","titleX":1,"titleY":-2,"titleFontSize":6,"titleFontWeight":"normal","titleColor":"#666","titleFont":"Liberation Sans"}},"color":{"field":"g","type":"nominal"}}}
]},
{"bounds":"flush","spacing":12.3,"hconcat":[
 {"width":23.7,"height":1,"data":{"values":[]},"mark":"point","view":{"stroke":null}},
 {"width":89,"height":90,"title":"ch1","data":{"name":"d"},"transform":[{"filter":"datum.k=='a1'"}],"mark":{"type":"line","interpolate":"monotone","strokeWidth":1,"opacity":0.65},"encoding":{"x":{"field":"t","type":"quantitative","scale":{"domain":[0,20],"nice":false},"axis":{"values":[0,10,20],"labelExpr":"''+datum.value","title":"*","titleX":56,"titleY":-94.2,"titleAlign":"left","titleBaseline":"alphabetic","titleAngle":0,"titleFontSize":14,"titleFontWeight":"normal","titleColor":"#ff0000","titleFont":"Liberation Sans"}},"y":{"field":"v","type":"quantitative","scale":{"domain":[-3,3],"nice":false},"axis":{"values":[-3,-2,-1,0,1,2,3],"labelExpr":"''+datum.value","title":"×10⁻³","titleAngle":0,"titleAlign":"left","titleBaseline":"bottom","titleX":1,"titleY":-2,"titleFontSize":6,"titleFontWeight":"normal","titleColor":"#666","titleFont":"Liberation Sans"}},"color":{"field":"g","type":"nominal"}}},
 {"width":89,"height":90,"title":"ch4","data":{"name":"d"},"transform":[{"filter":"datum.k=='a4'"}],"mark":{"type":"line","interpolate":"monotone","strokeWidth":1,"opacity":0.65},"encoding":{"x":{"field":"t","type":"quantitative","scale":{"domain":[0,20],"nice":false},"axis":{"values":[0,10,20],"title":null,"labelExpr":"''+datum.value"}},"y":{"field":"v","type":"quantitative","scale":{"domain":[-3,3],"nice":false},"axis":{"values":[-3,-2,-1,0,1,2,3],"labelExpr":"''+datum.value","title":"×10⁻³","titleAngle":0,"titleAlign":"left","titleBaseline":"bottom","titleX":1,"titleY":-2,"titleFontSize":6,"titleFontWeight":"normal","titleColor":"#666","titleFont":"Liberation Sans"}},"color":{"field":"g","type":"nominal"}}},
 {"width":89,"height":90,"title":"ch7","data":{"name":"d"},"transform":[{"filter":"datum.k=='a7'"}],"mark":{"type":"line","interpolate":"monotone","strokeWidth":1,"opacity":0.65},"encoding":{"x":{"field":"t","type":"quantitative","scale":{"domain":[0,20],"nice":false},"axis":{"values":[0,10,20],"labelExpr":"''+datum.value","title":"Time (sec)","titleX":96.5,"titleY":29,"titleAlign":"center","titleBaseline":"middle","titleFont":"Liberation Serif","titleFontSize":16,"titleFontWeight":"normal","titleColor":"#000"}},"y":{"field":"v","type":"quantitative","scale":{"domain":[-3,3],"nice":false},"axis":{"values":[-3,-2,-1,0,1,2,3],"labelExpr":"''+datum.value","title":"×10⁻³","titleAngle":0,"titleAlign":"left","titleBaseline":"bottom","titleX":1,"titleY":-2,"titleFontSize":6,"titleFontWeight":"normal","titleColor":"#666","titleFont":"Liberation Sans"}},"color":{"field":"g","type":"nominal"}}},
 {"width":89,"height":90,"title":"ch10","data":{"name":"d"},"transform":[{"filter":"datum.k=='a10'"}],"mark":{"type":"line","interpolate":"monotone","strokeWidth":1,"opacity":0.65},"encoding":{"x":{"field":"t","type":"quantitative","scale":{"domain":[0,20],"nice":false},"axis":{"values":[0,10,20],"title":null,"labelExpr":"''+datum.value"}},"y":{"field":"v","type":"quantitative","scale":{"domain":[-3,3],"nice":false},"axis":{"values":[-3,-2,-1,0,1,2,3],"labelExpr":"''+datum.value","title":"×10⁻³","titleAngle":0,"titleAlign":"left","titleBaseline":"bottom","titleX":1,"titleY":-2,"titleFontSize":6,"titleFontWeight":"normal","titleColor":"#666","titleFont":"Liberation Sans"}},"color":{"field":"g","type":"nominal"}}},
 {"width":89,"height":90,"title":"ch13","data":{"name":"d"},"transform":[{"filter":"datum.k=='a13'"}],"mark":{"type":"line","interpolate":"monotone","strokeWidth":1,"opacity":0.65},"encoding":{"x":{"field":"t","type":"quantitative","scale":{"domain":[0,20],"nice":false},"axis":{"values":[0,10,20],"title":null,"labelExpr":"''+datum.value"}},"y":{"field":"v","type":"quantitative","scale":{"domain":[-3,3],"nice":false},"axis":{"values":[-3,-2,-1,0,1,2,3],"labelExpr":"''+datum.value","title":"×10⁻³","titleAngle":0,"titleAlign":"left","titleBaseline":"bottom","titleX":1,"titleY":-2,"titleFontSize":6,"titleFontWeight":"normal","titleColor":"#666","titleFont":"Liberation Sans"}},"color":{"field":"g","type":"nominal"}}},
 {"width":89,"height":90,"title":"ch15","data":{"name":"d"},"transform":[{"filter":"datum.k=='a15'"}],"mark":{"type":"line","interpolate":"monotone","strokeWidth":1,"opacity":0.65},"encoding":{"x":{"field":"t","type":"quantitative","scale":{"domain":[0,20],"nice":false},"axis":{"values":[0,10,20],"title":null,"labelExpr":"''+datum.value"}},"y":{"field":"v","type":"quantitative","scale":{"domain":[-3,3],"nice":false},"axis":{"values":[-3,-2,-1,0,1,2,3],"labelExpr":"''+datum.value","title":"×10⁻³","titleAngle":0,"titleAlign":"left","titleBaseline":"bottom","titleX":1,"titleY":-2,"titleFontSize":6,"titleFontWeight":"normal","titleColor":"#666","titleFont":"Liberation Sans"}},"color":{"field":"g","type":"nominal"}}},
 {"width":27.4,"height":1,"data":{"values":[]},"mark":"point","view":{"stroke":null}},
 {"width":88,"height":89,"title":"ch1","data":{"name":"d"},"transform":[{"filter":"datum.k=='b1'"}],"mark":{"type":"line","interpolate":"monotone","strokeWidth":1,"opacity":0.65},"encoding":{"x":{"field":"t","type":"quantitative","scale":{"domain":[0,20],"nice":false},"axis":{"values":[0,10,20],"title":null,"labelExpr":"''+datum.value"}},"y":{"field":"v","type":"quantitative","scale":{"domain":[-1,1.2],"nice":false},"axis":{"values":[-1,-0.5,0,0.5,1],"labelExpr":"''+datum.value","title":"×10⁻³","titleAngle":0,"titleAlign":"left","titleBaseline":"bottom","titleX":1,"titleY":-2,"titleFontSize":6,"titleFontWeight":"normal","titleColor":"#666","titleFont":"Liberation Sans"}},"color":{"field":"g","type":"nominal"}}},
 {"width":88,"height":89,"title":"ch4","data":{"name":"d"},"transform":[{"filter":"datum.k=='b4'"}],"mark":{"type":"line","interpolate":"monotone","strokeWidth":1,"opacity":0.65},"encoding":{"x":{"field":"t","type":"quantitative","scale":{"domain":[0,20],"nice":false},"axis":{"values":[0,10,20],"title":null,"labelExpr":"''+datum.value"}},"y":{"field":"v","type":"quantitative","scale":{"domain":[-1,1.2],"nice":false},"axis":{"values":[-1,-0.5,0,0.5,1],"labelExpr":"''+datum.value","title":"×10⁻³","titleAngle":0,"titleAlign":"left","titleBaseline":"bottom","titleX":1,"titleY":-2,"titleFontSize":6,"titleFontWeight":"normal","titleColor":"#666","titleFont":"Liberation Sans"}},"color":{"field":"g","type":"nominal"}}},
 {"width":88,"height":89,"title":"ch7","data":{"name":"d"},"transform":[{"filter":"datum.k=='b7'"}],"mark":{"type":"line","interpolate":"monotone","strokeWidth":1,"opacity":0.65},"encoding":{"x":{"field":"t","type":"quantitative","scale":{"domain":[0,20],"nice":false},"axis":{"values":[0,10,20],"labelExpr":"''+datum.value","title":"*","titleX":55.4,"titleY":-93,"titleAlign":"left","titleBaseline":"alphabetic","titleAngle":0,"titleFontSize":14,"titleFontWeight":"normal","titleColor":"#ff0000","titleFont":"Liberation Sans"}},"y":{"field":"v","type":"quantitative","scale":{"domain":[-1,1.2],"nice":false},"axis":{"values":[-1,-0.5,0,0.5,1],"labelExpr":"''+datum.value","title":"×10⁻³","titleAngle":0,"titleAlign":"left","titleBaseline":"bottom","titleX":1,"titleY":-2,"titleFontSize":6,"titleFontWeight":"normal","titleColor":"#666","titleFont":"Liberation Sans"}},"color":{"field":"g","type":"nominal"}}},
 {"width":88,"height":89,"title":"ch10","data":{"name":"d"},"transform":[{"filter":"datum.k=='b10'"}],"mark":{"type":"line","interpolate":"monotone","strokeWidth":1,"opacity":0.65},"encoding":{"x":{"field":"t","type":"quantitative","scale":{"domain":[0,20],"nice":false},"axis":{"values":[0,10,20],"labelExpr":"''+datum.value","title":"Time (sec)","titleX":-5.9,"titleY":29,"titleAlign":"center","titleBaseline":"middle","titleFont":"Liberation Serif","titleFontSize":16,"titleFontWeight":"normal","titleColor":"#000"}},"y":{"field":"v","type":"quantitative","scale":{"domain":[-1,1.2],"nice":false},"axis":{"values":[-1,-0.5,0,0.5,1],"labelExpr":"''+datum.value","title":"×10⁻³","titleAngle":0,"titleAlign":"left","titleBaseline":"bottom","titleX":1,"titleY":-2,"titleFontSize":6,"titleFontWeight":"normal","titleColor":"#666","titleFont":"Liberation Sans"}},"color":{"field":"g","type":"nominal"}}},
 {"width":88,"height":89,"title":"ch13","data":{"name":"d"},"transform":[{"filter":"datum.k=='b13'"}],"mark":{"type":"line","interpolate":"monotone","strokeWidth":1,"opacity":0.65},"encoding":{"x":{"field":"t","type":"quantitative","scale":{"domain":[0,20],"nice":false},"axis":{"values":[0,10,20],"title":null,"labelExpr":"''+datum.value"}},"y":{"field":"v","type":"quantitative","scale":{"domain":[-1,1.2],"nice":false},"axis":{"values":[-1,-0.5,0,0.5,1],"labelExpr":"''+datum.value","title":"×10⁻³","titleAngle":0,"titleAlign":"left","titleBaseline":"bottom","titleX":1,"titleY":-2,"titleFontSize":6,"titleFontWeight":"normal","titleColor":"#666","titleFont":"Liberation Sans"}},"color":{"field":"g","type":"nominal"}}},
 {"width":88,"height":89,"title":"ch15","data":{"name":"d"},"transform":[{"filter":"datum.k=='b15'"}],"mark":{"type":"line","interpolate":"monotone","strokeWidth":1,"opacity":0.65},"encoding":{"x":{"field":"t","type":"quantitative","scale":{"domain":[0,20],"nice":false},"axis":{"values":[0,10,20],"title":null,"labelExpr":"''+datum.value"}},"y":{"field":"v","type":"quantitative","scale":{"domain":[-1,1.2],"nice":false},"axis":{"values":[-1,-0.5,0,0.5,1],"labelExpr":"''+datum.value","title":"×10⁻³","titleAngle":0,"titleAlign":"left","titleBaseline":"bottom","titleX":1,"titleY":-2,"titleFontSize":6,"titleFontWeight":"normal","titleColor":"#666","titleFont":"Liberation Sans"}},"color":{"field":"g","type":"nominal"}}}
]}
],
"config":{
 "view":{"stroke":"#8c8c8c","strokeWidth":1},
 "font":"Liberation Sans",
 "title":{"font":"Noto Sans CJK KR","fontSize":11,"fontWeight":"bold","color":"#000","offset":-7.5,"anchor":"middle"},
 "axis":{"domain":false,"ticks":false,"grid":false,"labelFontSize":7,"labelColor":"#555","labelFont":"Liberation Sans","labelPadding":2,"labelFlush":false,"labelOverlap":false}
}
}
